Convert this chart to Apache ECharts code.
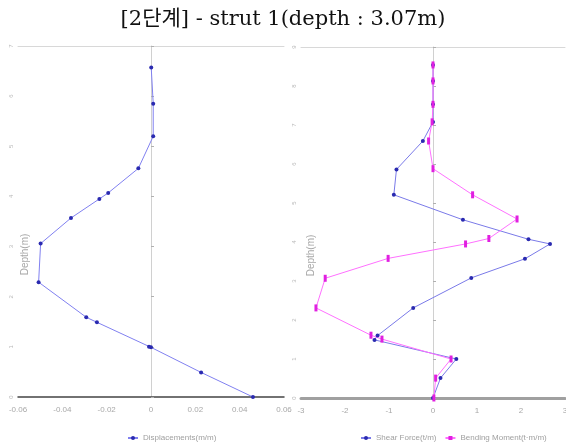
<!DOCTYPE html>
<html>
<head>
<meta charset="utf-8">
<script src="https://cdn.jsdelivr.net/npm/echarts@6/dist/echarts.min.js"></script>
<style>html,body{margin:0;padding:0;background:#fff}#c{width:566px;height:448px}</style>
</head>
<body>
<div id="c"></div>
<script>
var titleText = '[2단계] - strut 1(depth : 3.07m)';
// Left chart: displacement
var depthLeft = [0, 0.49, 0.99, 1.0, 1.49, 1.59, 2.29, 3.06, 3.57, 3.95, 4.07, 4.56, 5.2, 5.85, 6.57];
var displacement = [0.046, 0.0226, 0.0, -0.0009, -0.0244, -0.0292, -0.0507, -0.0498, -0.0361, -0.0233, -0.0193, -0.0057, 0.001, 0.001, 0.0001];
// Right chart: shear force / bending moment
var depthShear = [0, 0.51, 1.0, 1.49, 1.6, 2.31, 3.08, 3.57, 3.95, 4.07, 4.57, 5.21, 5.86, 6.59, 7.08, 7.53, 8.13, 8.54];
var shearForce = [0, 0.17, 0.53, -1.33, -1.26, -0.45, 0.87, 2.09, 2.66, 2.17, 0.68, -0.89, -0.83, -0.23, 0.0, 0.0, 0.0, 0.0];
var depthMoment = [0, 0.51, 1.0, 1.51, 1.61, 2.31, 3.07, 3.58, 3.95, 4.09, 4.59, 5.21, 5.88, 6.59, 7.08, 7.53, 8.13, 8.54];
var bendingMoment = [0.02, 0.06, 0.41, -1.16, -1.41, -2.66, -2.45, -1.02, 0.74, 1.27, 1.91, 0.9, 0.0, -0.1, -0.02, 0.0, 0.0, 0.0];
var leftXTicks = {min: -0.06, max: 0.06, interval: 0.02};
var rightXTicks = {min: -3, max: 3, interval: 1};
var leftYTicks = {min: 0, max: 7, interval: 1};
var rightYTicks = {min: 0, max: 9, interval: 1};
var nameDisp = 'Displacements(m/m)';
var nameShear = 'Shear Force(t/m)';
var nameMoment = 'Bending Moment(t·m/m)';
var yName = 'Depth(m)';

function pairs(xs, ys){ return xs.map(function(v,i){ return [v, ys[i]]; }); }

var smallFont = '"Liberation Sans", sans-serif';
var labelFont = {color:'#a8a8a8', fontSize:8, fontFamily:smallFont};

function xAxisBottom(idx, t, lineColor, lineW){
  return {type:'value', gridIndex:idx, min:t.min, max:t.max, interval:t.interval, position:'bottom',
    axisLine:{show:true, onZero:false, lineStyle:{color:lineColor, width:lineW}},
    axisTick:{show:false}, splitLine:{show:false},
    axisLabel:Object.assign({margin:9, formatter:function(v){ return (Math.round(v*100)/100).toString(); }}, labelFont)};
}
function xAxisTop(idx, t){
  return {type:'value', gridIndex:idx, min:t.min, max:t.max, interval:t.interval, position:'top',
    axisLine:{show:true, onZero:false, lineStyle:{color:'#d8d8d8', width:1}},
    axisTick:{show:false}, axisLabel:{show:false}, splitLine:{show:false}};
}
function yAxisDef(idx, t, xIdx){
  return {type:'value', gridIndex:idx, min:t.min, max:t.max, interval:t.interval,
    axisLine:{show:true, onZero:true, onZeroAxisIndex:xIdx, lineStyle:{color:'#d0d0d0', width:1}},
    axisTick:{show:true, inside:true, length:3, lineStyle:{color:'#b0b0b0'}},
    axisLabel:{color:'#b8b8b8', fontSize:6, rotate:90, margin:4, fontFamily:smallFont},
    splitLine:{show:false}};
}
function yNameAxis(idx, t, gap){
  return {type:'value', gridIndex:idx, min:t.min, max:t.max, interval:t.interval, position:'left',
    name:yName, nameLocation:'middle', nameGap:gap, nameRotate:90,
    nameTextStyle:{color:'#a8a8a8', fontSize:10, fontFamily:smallFont, padding:[0, 66, 0, 0]},
    axisLine:{show:false, onZero:false}, axisTick:{show:false}, axisLabel:{show:false}, splitLine:{show:false}};
}

var chart = echarts.init(document.getElementById('c'), null, {renderer:'canvas'});
chart.setOption({
  animation:false,
  backgroundColor:'#fff',
  title:{text:titleText, left:'center', top:4,
    textStyle:{fontFamily:'DejaVu Serif, "Noto Sans CJK KR"', fontSize:21, fontWeight:'normal', color:'#111'}},
  legend:[
    {data:[nameDisp], left:122, top:429, width:200, itemWidth:10, itemHeight:5, itemGap:6,
      textStyle:{color:'#a0a0a0', fontSize:8, fontFamily:smallFont}},
    {data:[nameShear, nameMoment], left:355, top:429, width:300, itemWidth:10, itemHeight:5, itemGap:8,
      textStyle:{color:'#a0a0a0', fontSize:8, fontFamily:smallFont}}
  ],
  grid:[
    {left:18, right:282, top:46, bottom:51, outerBoundsMode:'none', containLabel:false},
    {left:301, right:1, top:47, bottom:50, outerBoundsMode:'none', containLabel:false}
  ],
  xAxis:[
    xAxisBottom(0, leftXTicks, '#444', 1.5),
    xAxisBottom(1, rightXTicks, '#a0a0a0', 3),
    xAxisTop(0, leftXTicks),
    xAxisTop(1, rightXTicks)
  ],
  yAxis:[
    yAxisDef(0, leftYTicks, 0),
    yAxisDef(1, rightYTicks, 1),
    yNameAxis(0, leftYTicks, -12),
    yNameAxis(1, rightYTicks, -15)
  ],
  series:[
    {name:nameDisp, type:'line', xAxisIndex:0, yAxisIndex:0, data:pairs(displacement, depthLeft),
      symbol:'circle', symbolSize:4, showSymbol:true,
      lineStyle:{color:'#8080f0', width:1}, itemStyle:{color:'#2a2ab0'}},
    {name:nameShear, type:'line', xAxisIndex:1, yAxisIndex:1, data:pairs(shearForce, depthShear),
      symbol:'circle', symbolSize:4,
      lineStyle:{color:'#7a7ae8', width:1}, itemStyle:{color:'#2a2ab0'}},
    {name:nameMoment, type:'line', xAxisIndex:1, yAxisIndex:1, data:pairs(bendingMoment, depthMoment),
      symbol:'rect', symbolSize:[3,7],
      lineStyle:{color:'#ff70ff', width:1}, itemStyle:{color:'#e020e0'}}
  ]
});
</script>
</body>
</html>
